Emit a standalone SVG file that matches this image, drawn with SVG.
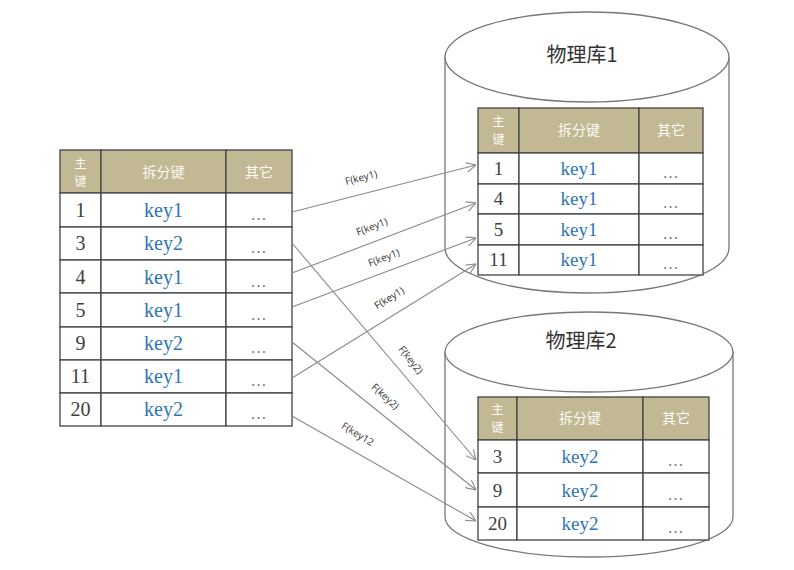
<svg xmlns="http://www.w3.org/2000/svg" width="794" height="570" viewBox="0 0 794 570">
<defs>
<style>
.hdr{fill:#c2b894;stroke:#444;stroke-width:1.3}
.cell{fill:#fff;stroke:#444;stroke-width:1.3}
.ht{font-family:"Noto Sans CJK SC",sans-serif;font-size:14px;fill:#fbfaf5;text-anchor:middle}
.hs{font-family:"Noto Sans CJK SC",sans-serif;font-size:12px;fill:#fbfaf5;text-anchor:middle}
.num{font-family:"Liberation Serif",serif;font-size:20px;fill:#404040;text-anchor:middle}
.key{font-family:"Liberation Serif",serif;font-size:20px;fill:#2e75b6;text-anchor:middle}
.num2{font-family:"Liberation Serif",serif;font-size:19px;fill:#404040;text-anchor:middle}
.key2{font-family:"Liberation Serif",serif;font-size:19px;fill:#2e75b6;text-anchor:middle}
.dots{font-family:"Liberation Serif",serif;font-size:16px;fill:#777;text-anchor:middle;letter-spacing:1px}
.cyl{fill:#fff;stroke:#777;stroke-width:1.3}
.title{font-family:"Noto Sans CJK SC",sans-serif;font-size:20px;fill:#333;text-anchor:middle}
.conn{stroke:#8a8a8a;stroke-width:1.1;fill:none;marker-end:url(#arr)}
.lbl{font-family:"Open Sans","Liberation Sans",sans-serif;font-size:10px;fill:#333;text-anchor:middle}
</style>
<marker id="arr" viewBox="0 0 10 10" refX="10" refY="5" markerWidth="10" markerHeight="10" markerUnits="userSpaceOnUse" orient="auto">
<path d="M0,0 L10,5 L0,10" fill="none" stroke="#8a8a8a" stroke-width="1.1"/>
</marker>
</defs>
<rect width="794" height="570" fill="#fff"/>

<g id="source-table">
<rect class="hdr" x="60" y="150" width="41" height="43"/>
<rect class="hdr" x="101" y="150" width="125" height="43"/>
<rect class="hdr" x="226" y="150" width="66" height="43"/>
<text class="hs" x="80.5" y="168">主</text>
<text class="hs" x="80.5" y="186">键</text>
<text class="ht" x="163.5" y="177">拆分键</text>
<text class="ht" x="259" y="177">其它</text>
<g>
<rect class="cell" x="60" y="193" width="41" height="34"/><rect class="cell" x="101" y="193" width="125" height="34"/><rect class="cell" x="226" y="193" width="66" height="34"/>
<rect class="cell" x="60" y="227" width="41" height="33"/><rect class="cell" x="101" y="227" width="125" height="33"/><rect class="cell" x="226" y="227" width="66" height="33"/>
<rect class="cell" x="60" y="260" width="41" height="33"/><rect class="cell" x="101" y="260" width="125" height="33"/><rect class="cell" x="226" y="260" width="66" height="33"/>
<rect class="cell" x="60" y="293" width="41" height="34"/><rect class="cell" x="101" y="293" width="125" height="34"/><rect class="cell" x="226" y="293" width="66" height="34"/>
<rect class="cell" x="60" y="327" width="41" height="33"/><rect class="cell" x="101" y="327" width="125" height="33"/><rect class="cell" x="226" y="327" width="66" height="33"/>
<rect class="cell" x="60" y="360" width="41" height="33"/><rect class="cell" x="101" y="360" width="125" height="33"/><rect class="cell" x="226" y="360" width="66" height="33"/>
<rect class="cell" x="60" y="393" width="41" height="33"/><rect class="cell" x="101" y="393" width="125" height="33"/><rect class="cell" x="226" y="393" width="66" height="33"/>
</g>
<text class="num" x="80.5" y="217">1</text><text class="key" x="163.5" y="217">key1</text><text class="dots" x="259" y="220">…</text>
<text class="num" x="80.5" y="250">3</text><text class="key" x="163.5" y="250">key2</text><text class="dots" x="259" y="253">…</text>
<text class="num" x="80.5" y="284">4</text><text class="key" x="163.5" y="284">key1</text><text class="dots" x="259" y="287">…</text>
<text class="num" x="80.5" y="317">5</text><text class="key" x="163.5" y="317">key1</text><text class="dots" x="259" y="320">…</text>
<text class="num" x="80.5" y="350">9</text><text class="key" x="163.5" y="350">key2</text><text class="dots" x="259" y="353">…</text>
<text class="num" x="80.5" y="383">11</text><text class="key" x="163.5" y="383">key1</text><text class="dots" x="259" y="386">…</text>
<text class="num" x="80.5" y="416">20</text><text class="key" x="163.5" y="416">key2</text><text class="dots" x="259" y="419">…</text>
</g>

<g id="db1">
<path class="cyl" d="M445,57 L445,248 A142,45 0 0 0 729,248 L729,57"/>
<ellipse class="cyl" cx="587" cy="57" rx="142" ry="45"/>
<text class="title" x="582" y="62">物理库1</text>
<rect class="hdr" x="478" y="108" width="41" height="45"/>
<rect class="hdr" x="519" y="108" width="120" height="45"/>
<rect class="hdr" x="639" y="108" width="64" height="45"/>
<text class="hs" x="498.5" y="126">主</text>
<text class="hs" x="498.5" y="144">键</text>
<text class="ht" x="579" y="135">拆分键</text>
<text class="ht" x="671" y="135">其它</text>
<rect class="cell" x="478" y="153" width="41" height="31"/><rect class="cell" x="519" y="153" width="120" height="31"/><rect class="cell" x="639" y="153" width="64" height="31"/>
<rect class="cell" x="478" y="184" width="41" height="30"/><rect class="cell" x="519" y="184" width="120" height="30"/><rect class="cell" x="639" y="184" width="64" height="30"/>
<rect class="cell" x="478" y="214" width="41" height="31"/><rect class="cell" x="519" y="214" width="120" height="31"/><rect class="cell" x="639" y="214" width="64" height="31"/>
<rect class="cell" x="478" y="245" width="41" height="30"/><rect class="cell" x="519" y="245" width="120" height="30"/><rect class="cell" x="639" y="245" width="64" height="30"/>
<text class="num2" x="498.5" y="175">1</text><text class="key2" x="579" y="175">key1</text><text class="dots" x="671" y="178">…</text>
<text class="num2" x="498.5" y="205">4</text><text class="key2" x="579" y="205">key1</text><text class="dots" x="671" y="208">…</text>
<text class="num2" x="498.5" y="236">5</text><text class="key2" x="579" y="236">key1</text><text class="dots" x="671" y="239">…</text>
<text class="num2" x="498.5" y="266">11</text><text class="key2" x="579" y="266">key1</text><text class="dots" x="671" y="269">…</text>
</g>

<g id="db2">
<path class="cyl" d="M445,352 L445,517 A144,40 0 0 0 733,517 L733,352"/>
<ellipse class="cyl" cx="589" cy="352" rx="144" ry="40"/>
<text class="title" x="581" y="348">物理库2</text>
<rect class="hdr" x="478" y="397" width="39" height="43"/>
<rect class="hdr" x="517" y="397" width="126" height="43"/>
<rect class="hdr" x="643" y="397" width="66" height="43"/>
<text class="hs" x="497.5" y="414">主</text>
<text class="hs" x="497.5" y="432">键</text>
<text class="ht" x="580" y="423">拆分键</text>
<text class="ht" x="676" y="423">其它</text>
<rect class="cell" x="478" y="440" width="39" height="33"/><rect class="cell" x="517" y="440" width="126" height="33"/><rect class="cell" x="643" y="440" width="66" height="33"/>
<rect class="cell" x="478" y="473" width="39" height="34"/><rect class="cell" x="517" y="473" width="126" height="34"/><rect class="cell" x="643" y="473" width="66" height="34"/>
<rect class="cell" x="478" y="507" width="39" height="33"/><rect class="cell" x="517" y="507" width="126" height="33"/><rect class="cell" x="643" y="507" width="66" height="33"/>
<text class="num2" x="497.5" y="463">3</text><text class="key2" x="580" y="463">key2</text><text class="dots" x="676" y="466">…</text>
<text class="num2" x="497.5" y="497">9</text><text class="key2" x="580" y="497">key2</text><text class="dots" x="676" y="500">…</text>
<text class="num2" x="497.5" y="530">20</text><text class="key2" x="580" y="530">key2</text><text class="dots" x="676" y="533">…</text>
</g>

<g id="connectors">
<line class="conn" x1="292" y1="212" x2="476" y2="165"/>
<line class="conn" x1="292" y1="273" x2="476" y2="203"/>
<line class="conn" x1="292" y1="307" x2="476" y2="238"/>
<line class="conn" x1="292" y1="378" x2="476" y2="264"/>
<line class="conn" x1="292" y1="243" x2="476" y2="460"/>
<line class="conn" x1="292" y1="342" x2="476" y2="490"/>
<line class="conn" x1="292" y1="416" x2="476" y2="521"/>
<text class="lbl" transform="translate(362,181) rotate(-14.3)">F(key1)</text>
<text class="lbl" transform="translate(373,230) rotate(-20.8)">F(key1)</text>
<text class="lbl" transform="translate(385,261) rotate(-20.6)">F(key1)</text>
<text class="lbl" transform="translate(391,301) rotate(-31.6)">F(key1)</text>
<text class="lbl" transform="translate(408,362) rotate(52)">F(key2)</text>
<text class="lbl" transform="translate(383,399) rotate(42)">F(key2)</text>
<text class="lbl" transform="translate(356,437) rotate(31)">F(key12</text>
</g>
</svg>
